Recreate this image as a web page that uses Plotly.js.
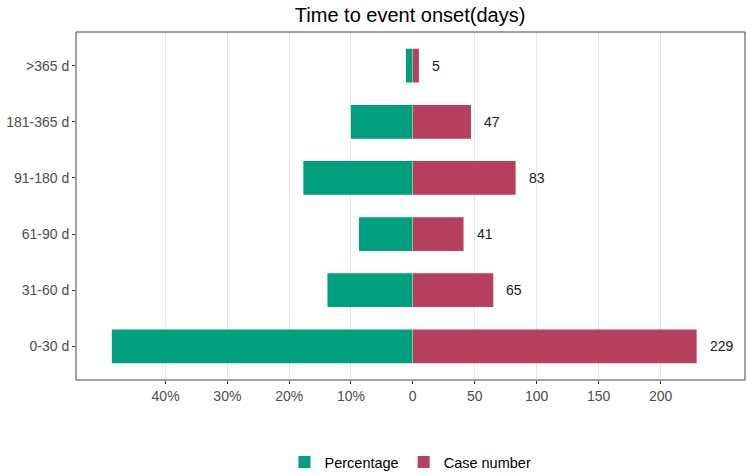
<!DOCTYPE html>
<html>
<head>
<meta charset="utf-8">
<script src="https://cdn.plot.ly/plotly-3.0.1.min.js"></script>
<style>
  html, body { margin: 0; padding: 0; background: #fff; }
  #chart { width: 747px; height: 475px; }
</style>
</head>
<body>
<div id="chart"></div>
<script>
// Data (bottom to top)
const categories = ["0-30 d", "31-60 d", "61-90 d", "91-180 d", "181-365 d", ">365 d"];
const caseNumber = [229, 65, 41, 83, 47, 5];
const percentage = [48.7, 13.8, 8.7, 17.7, 10.0, 1.1];

const pctTicks = [10, 20, 30, 40];
const caseTicks = [0, 50, 100, 150, 200];

const green = "#00A07E";
const red = "#B8405F";
const fontFam = "Liberation Sans, Arial, sans-serif";
const tickFont = { family: fontFam, size: 14, color: "#4d4d4d" };

// Left half: percentage, drawn on a reversed axis
let tracePct = {
  type: "bar",
  orientation: "h",
  name: "Percentage",
  y: categories,
  x: percentage,
  xaxis: "x",
  yaxis: "y",
  width: 0.6,
  marker: { color: green },
  hoverinfo: "y+x"
};

// Right half: case number
let traceCase = {
  type: "bar",
  orientation: "h",
  name: "Case number",
  y: categories,
  x: caseNumber,
  xaxis: "x2",
  yaxis: "y",
  width: 0.6,
  marker: { color: red },
  hoverinfo: "y+x"
};

// Count labels to the right of each red bar
let labels = caseNumber.map(function (v, i) {
  return {
    xref: "x2", yref: "y",
    x: v, y: categories[i],
    text: String(v),
    showarrow: false,
    xanchor: "left",
    xshift: 11,
    font: { family: fontFam, size: 14, color: "#1a1a1a" }
  };
});

let split = 0.5033;

let layout = {
  width: 747,
  height: 475,
  margin: { l: 76, r: 2, t: 32, b: 95 },
  paper_bgcolor: "#fff",
  plot_bgcolor: "#fff",
  font: { family: fontFam },
  title: {
    text: "Time to event onset(days)",
    font: { family: fontFam, size: 20, color: "#000" },
    x: 0.549, xanchor: "center",
    y: 0.968, yanchor: "middle"
  },
  showlegend: true,
  legend: {
    orientation: "h",
    x: 0.5, xanchor: "center",
    yref: "container",
    y: 0.027, yanchor: "middle",
    font: { family: fontFam, size: 14.5, color: "#000" },
    traceorder: "normal"
  },
  xaxis: {
    domain: [0, split],
    range: [54.5, 0],
    tickvals: pctTicks,
    ticktext: pctTicks.map(function (t) { return t + "%"; }),
    ticks: "outside", ticklen: 3, tickcolor: "#333", tickwidth: 1,
    tickfont: tickFont,
    showgrid: true, gridcolor: "#e6e6e6", gridwidth: 1,
    zeroline: false, showline: false,
    anchor: "y", fixedrange: true
  },
  xaxis2: {
    domain: [split, 1],
    range: [0, 268],
    tickvals: caseTicks,
    ticks: "outside", ticklen: 3, tickcolor: "#333", tickwidth: 1,
    tickfont: tickFont,
    showgrid: true, gridcolor: "#e6e6e6", gridwidth: 1,
    zeroline: false, showline: false,
    anchor: "y", fixedrange: true
  },
  yaxis: {
    type: "category",
    categoryorder: "array",
    categoryarray: categories,
    range: [-0.6, 5.6],
    ticks: "outside", ticklen: 3, tickcolor: "#333", tickwidth: 1,
    tickfont: tickFont,
    showgrid: false, zeroline: false, showline: false,
    fixedrange: true
  },
  shapes: [{
    type: "rect", xref: "paper", yref: "paper",
    x0: 0, x1: 1, y0: 0, y1: 1,
    line: { color: "#444", width: 1 },
    fillcolor: "rgba(0,0,0,0)",
    layer: "above"
  }],
  annotations: labels
};

Plotly.newPlot("chart", [tracePct, traceCase], layout, { displayModeBar: false, staticPlot: true });
</script>
</body>
</html>
